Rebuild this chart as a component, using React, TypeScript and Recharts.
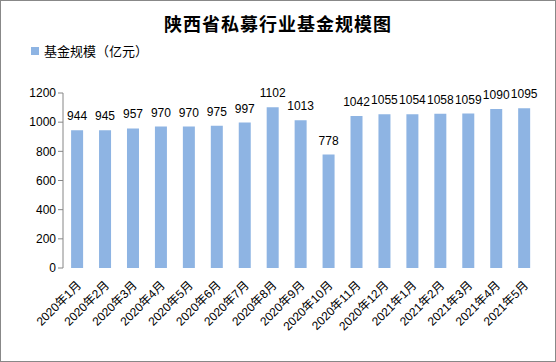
import React from "react";
import {
  ComposedChart,
  Bar,
  Line,
  XAxis,
  YAxis,
  LabelList,
  Legend,
} from "recharts";

const MONTHS = [
  "2020年1月",
  "2020年2月",
  "2020年3月",
  "2020年4月",
  "2020年5月",
  "2020年6月",
  "2020年7月",
  "2020年8月",
  "2020年9月",
  "2020年10月",
  "2020年11月",
  "2020年12月",
  "2021年1月",
  "2021年2月",
  "2021年3月",
  "2021年4月",
  "2021年5月",
];

const FUND_SIZE = [
  944, 945, 957, 970, 970, 975, 997, 1102, 1013, 778, 1042, 1055, 1054, 1058,
  1059, 1090, 1095,
];

const Y_TICKS = [0, 200, 400, 600, 800, 1000, 1200];
// category boundaries, used for the tick marks between months
const BOUNDARY_TICKS = Array.from({ length: MONTHS.length + 1 }, (_, i) => i);

const data = MONTHS.map((name, i) => ({ name, value: FUND_SIZE[i], pos: i + 0.5 }));

const FONT = "'Liberation Sans', 'Noto Sans CJK SC', sans-serif";
const BAR_COLOR = "#8EB4E3";
const AXIS_COLOR = "#868686";

const MonthTick = (props: any) => {
  const { x, y, payload } = props;
  return (
    <g transform={`translate(${x + 5},${y + 10})`}>
      <text
        textAnchor="end"
        transform="rotate(-45)"
        fontSize={12}
        fontFamily={FONT}
        fill="#000"
      >
        {payload.value}
      </text>
    </g>
  );
};

const LegendBox = () => (
  <div
    style={{
      display: "flex",
      alignItems: "center",
      fontFamily: "'Noto Sans CJK SC', sans-serif",
      fontSize: 13,
      color: "#000",
    }}
  >
    <span
      style={{
        width: 8,
        height: 8,
        background: BAR_COLOR,
        display: "inline-block",
        marginRight: 5,
      }}
    />
    基金规模（亿元）
  </div>
);

export default function App() {
  return (
    <div
      style={{
        position: "absolute",
        left: 0,
        top: 0,
        width: 554,
        height: 360,
        border: "1px solid #888",
        background: "#fff",
      }}
    >
      <div
        style={{
          position: "absolute",
          top: 9,
          left: 0,
          width: "100%",
          textAlign: "center",
          fontFamily: "'Noto Sans CJK SC', sans-serif",
          fontWeight: 700,
          fontSize: 18,
          letterSpacing: 1,
          color: "#000",
        }}
      >
        陕西省私募行业基金规模图
      </div>
      <div style={{ position: "absolute", left: -1, top: -1 }}>
        <ComposedChart
          width={556}
          height={362}
          data={data}
          margin={{ top: 74, right: 18, bottom: 24, left: 23 }}
          barCategoryGap="29%"
        >
          <XAxis
            xAxisId="grid"
            type="number"
            dataKey="pos"
            domain={[0, MONTHS.length]}
            ticks={BOUNDARY_TICKS}
            interval={0}
            tick={false}
            tickSize={6}
            stroke={AXIS_COLOR}
            height={0}
          />
          <XAxis
            dataKey="name"
            interval={0}
            tick={<MonthTick />}
            tickLine={false}
            axisLine={false}
            height={70}
          />
          <YAxis
            domain={[0, 1200]}
            ticks={Y_TICKS}
            interval={0}
            width={40}
            tickSize={5}
            stroke={AXIS_COLOR}
            tick={{ fill: "#000", fontSize: 12, fontFamily: FONT }}
          />
          <Legend
            verticalAlign="top"
            align="left"
            content={<LegendBox />}
            wrapperStyle={{ top: 41, left: 31, width: "auto" }}
          />
          <Bar dataKey="value" fill={BAR_COLOR} isAnimationActive={false}>
            <LabelList
              dataKey="value"
              position="top"
              offset={10}
              fill="#000"
              fontSize={12}
              fontFamily={FONT}
            />
          </Bar>
          <Line
            xAxisId="grid"
            dataKey="value"
            stroke="none"
            dot={false}
            activeDot={false}
            legendType="none"
            isAnimationActive={false}
          />
        </ComposedChart>
      </div>
    </div>
  );
}
